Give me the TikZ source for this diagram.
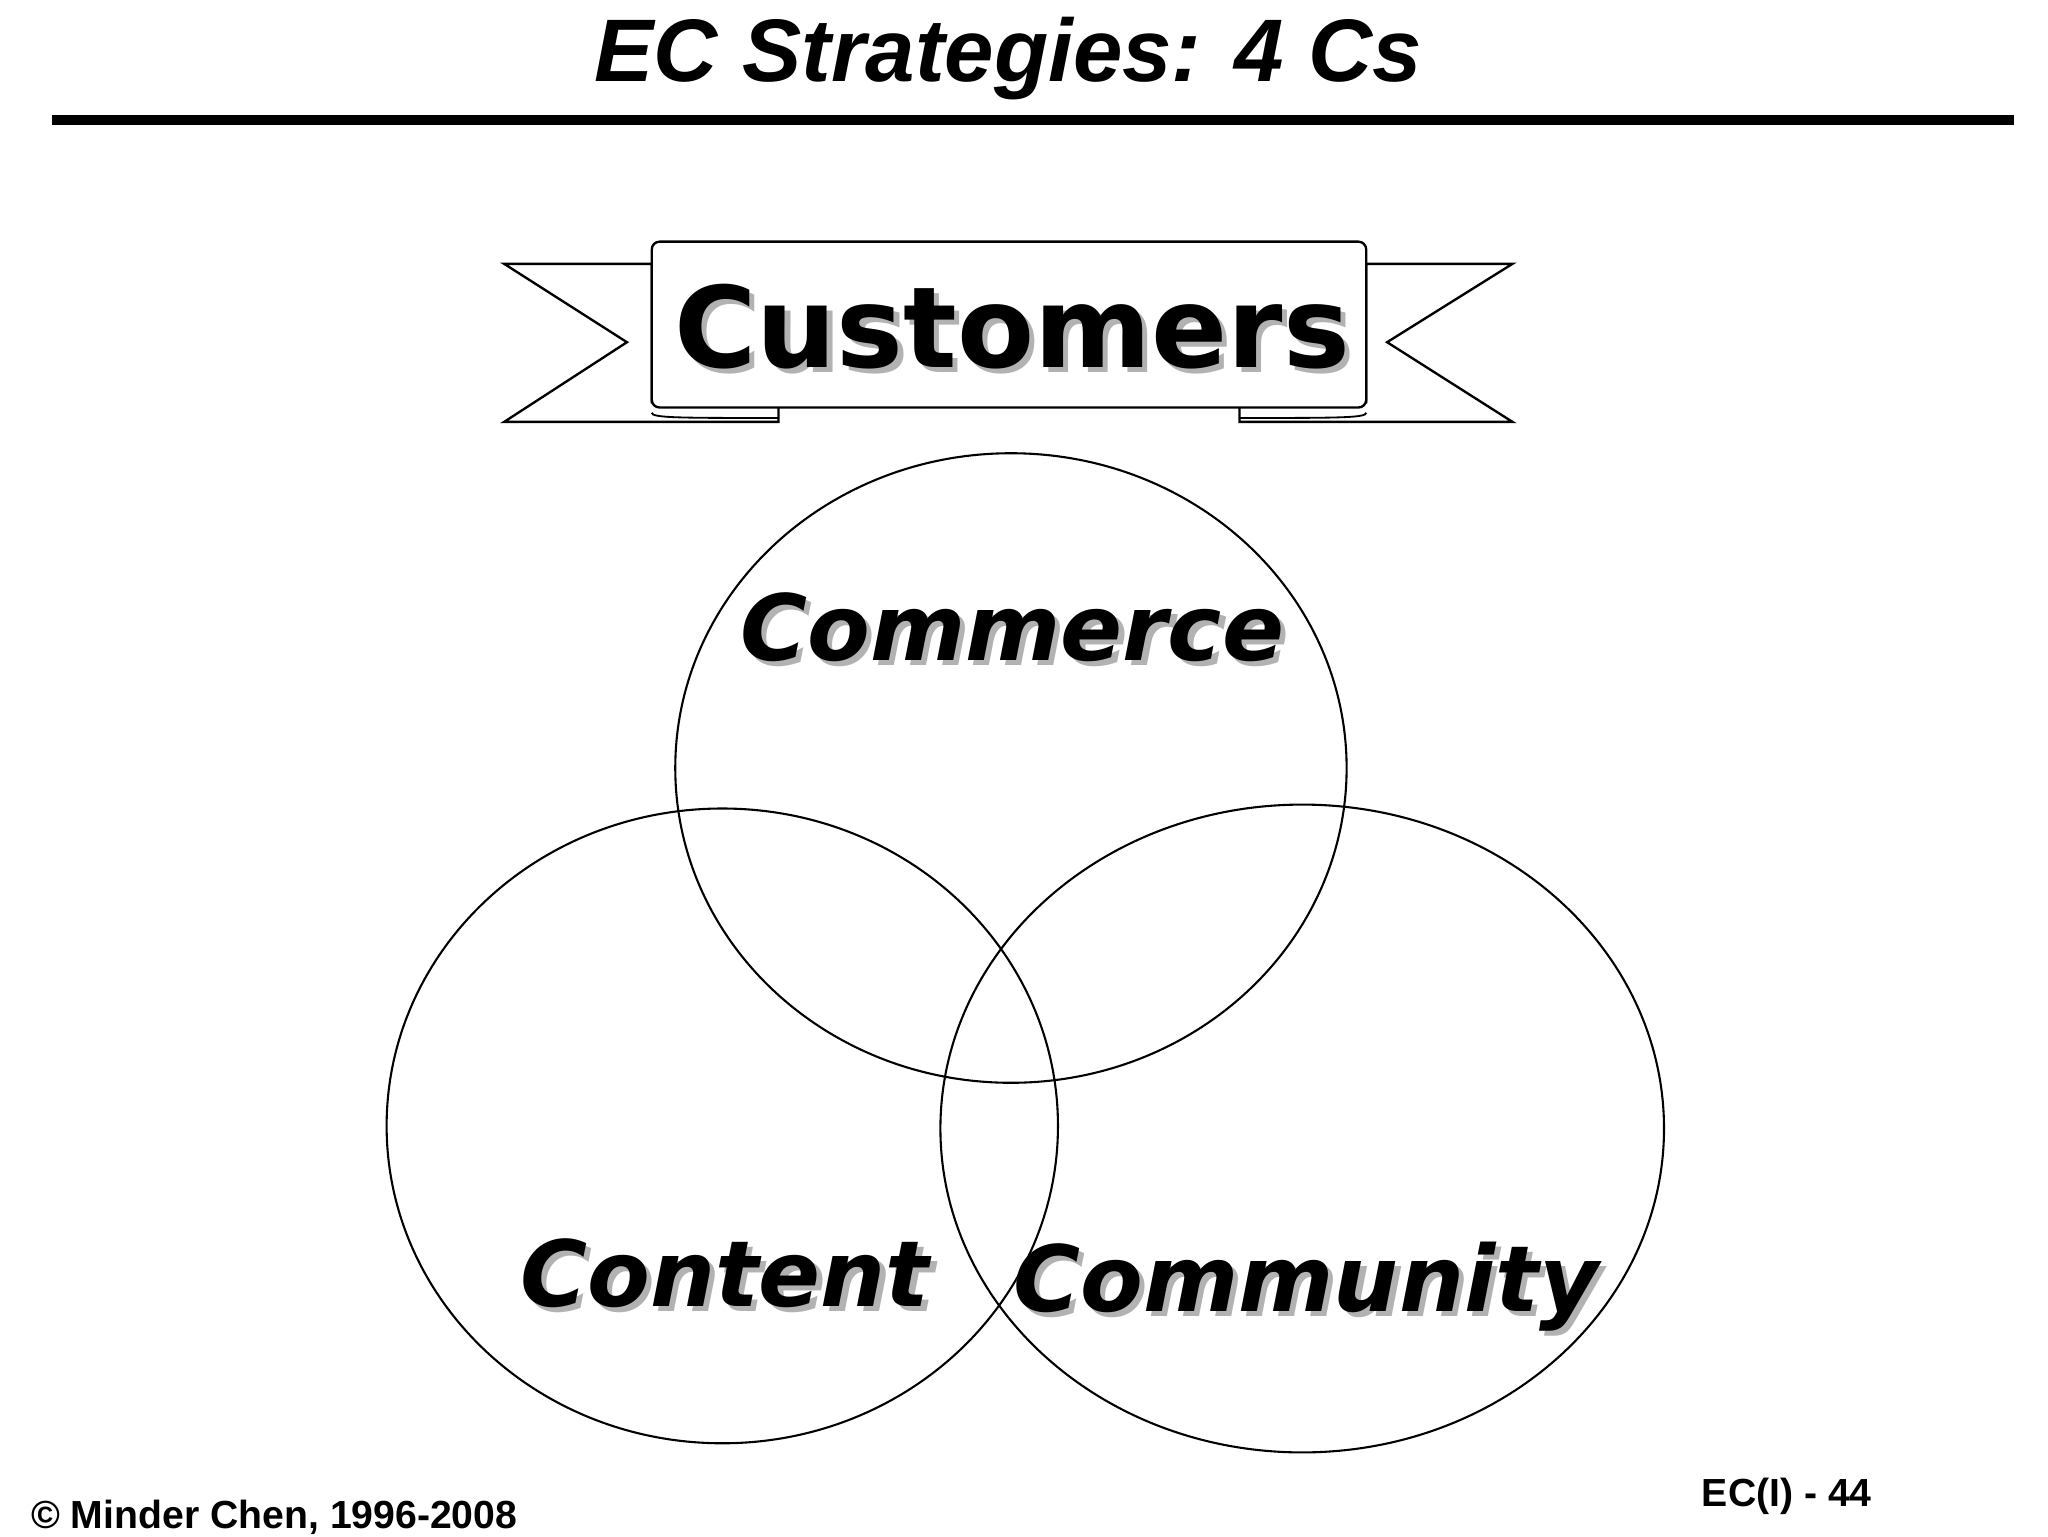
\documentclass[tikz,border=0pt]{standalone}
\usepackage{fontspec}
\setmainfont{Liberation Sans}
\newfontfamily\dvs{DejaVu Sans}
\begin{document}
\begin{tikzpicture}[x=1pt,y=-1pt,
  ell/.style={draw,line width=1.6pt},
  ban/.style={draw,line width=1.8pt,fill=white},
  big/.style={font=\dvs\bfseries\fontsize{86}{92}\selectfont},
  cw/.style={font=\dvs\bfseries\itshape\fontsize{70}{76}\selectfont}]
\useasboundingbox (0,0) rectangle (1568,1176);
\node[font=\bfseries\itshape\fontsize{68}{72}\selectfont] (title) at (772,45) {EC Strategies: 4 Cs};
\draw[line width=8pt] (40,92) -- (1542,92);
% banner tails
\draw[ban] (386,202) -- (499,202) -- (499,308) -- (596,308) -- (596,323) -- (386,323) -- (480,262) -- cycle;
\draw[ban] (1158,202) -- (1046,202) -- (1046,308) -- (949,308) -- (949,323) -- (1158,323) -- (1062,262) -- cycle;
\draw[ban,rounded corners=6pt] (499,185) rectangle (1046,312);
\draw[line width=1.4pt] (499,316) .. controls (499,320) and (520,320) .. (596,320);
\draw[line width=1.4pt] (1046,316) .. controls (1046,320) and (1025,320) .. (949,320);
\node[big,text=gray!60] at (779,254) {Customers};
\node[big] (cust) at (775,250) {Customers};
% circles
\draw[ell] (774,588) ellipse [x radius=257,y radius=241];
\draw[ell] (553,862) ellipse [x radius=257,y radius=243];
\draw[ell] (997,864) ellipse [x radius=277,y radius=248];
\node[cw,text=gray!60] at (779,484) {Commerce};
\node[cw] (comm) at (775,480) {Commerce};
\node[cw,text=gray!60] at (559,979) {Content};
\node[cw] (cont) at (555,975) {Content};
\node[cw,text=gray!60] at (1004,989) {Community};
\node[cw] (cmty) at (1000,985) {Community};
\node[font=\bfseries\fontsize{30}{33}\selectfont] (foot) at (210,1162) {© Minder Chen, 1996-2008};
\node[font=\bfseries\fontsize{30}{33}\selectfont] (pg) at (1368,1146) {EC(I) - 44};
\end{tikzpicture}
\end{document}
